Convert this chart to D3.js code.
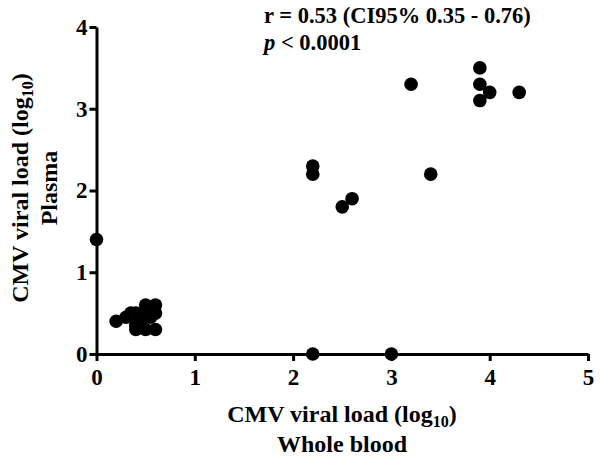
<!DOCTYPE html>
<html>
<head>
<meta charset="utf-8">
<script src="https://cdn.jsdelivr.net/npm/d3@7"></script>
<style>
  body { margin: 0; background: #fff; }
  text { font-family: "Liberation Serif", "Times New Roman", serif; font-weight: bold; }
</style>
</head>
<body>
<svg width="600" height="463"></svg>
<script>
// whole blood (x) vs plasma (y), log10 copies
const wholeBlood = [0, 0.2, 0.3, 0.35, 0.4, 0.4, 0.45, 0.5, 0.5, 0.55, 0.6, 0.6, 0.6, 0.4, 0.5,
                    2.2, 2.2, 2.2, 2.5, 2.6, 3.0, 3.2, 3.4, 3.9, 3.9, 3.9, 4.0, 4.3];
const plasma     = [1.4, 0.4, 0.45, 0.5, 0.5, 0.35, 0.4, 0.6, 0.3, 0.45, 0.6, 0.5, 0.3, 0.3, 0.5,
                    2.3, 2.2, 0, 1.8, 1.9, 0, 3.3, 2.2, 3.5, 3.3, 3.1, 3.2, 3.2];
const xTicks = [0, 1, 2, 3, 4, 5];
const yTicks = [0, 1, 2, 3, 4];

const svg = d3.select("svg");
const x = d3.scaleLinear().domain([0, 5]).range([96.5, 588]);
const y = d3.scaleLinear().domain([0, 4]).range([354, 27]);

const styleAxis = g => {
    g.select(".domain").attr("stroke", "#000").attr("stroke-width", 3);
    g.selectAll(".tick line").attr("stroke", "#000").attr("stroke-width", 3);
    g.selectAll(".tick text").attr("font-size", 23).attr("fill", "#000")
        .attr("font-family", "Liberation Serif").attr("font-weight", "bold");
};

svg.append("g")
    .attr("transform", `translate(0,${y(0)})`)
    .call(d3.axisBottom(x).tickValues(xTicks).tickSize(7).tickSizeOuter(0).tickPadding(8).tickFormat(d3.format("d")))
    .call(styleAxis);

svg.append("g")
    .attr("transform", `translate(${x(0)},0)`)
    .call(d3.axisLeft(y).tickValues(yTicks).tickSize(7).tickSizeOuter(0).tickPadding(2).tickFormat(d3.format("d")))
    .call(styleAxis);

svg.append("g").selectAll("circle")
    .data(d3.range(wholeBlood.length))
    .join("circle")
    .attr("cx", i => x(wholeBlood[i]))
    .attr("cy", i => y(plasma[i]))
    .attr("r", 6.8)
    .attr("fill", "#000");

// annotation
const note = svg.append("g").attr("font-size", 22.5);
note.append("text").attr("x", 264).attr("y", 23).text("r = 0.53 (CI95% 0.35 - 0.76)");
const p = note.append("text").attr("x", 264).attr("y", 50);
p.append("tspan").attr("font-style", "italic").text("p");
p.append("tspan").text(" < 0.0001");

// x title
const xt = svg.append("text").attr("text-anchor", "middle").attr("font-size", 24)
    .attr("x", 342).attr("y", 422);
xt.append("tspan").text("CMV viral load (log");
xt.append("tspan").attr("font-size", 16).attr("dy", 5).text("10");
xt.append("tspan").attr("dy", -5).text(")");
svg.append("text").attr("text-anchor", "middle").attr("font-size", 24)
    .attr("x", 342).attr("y", 452).text("Whole blood");

// y title
const yg = svg.append("g").attr("transform", "translate(28,188) rotate(-90)");
const yt = yg.append("text").attr("text-anchor", "middle").attr("font-size", 24).attr("y", 0);
yt.append("tspan").text("CMV viral load (log");
yt.append("tspan").attr("font-size", 16).attr("dy", 5).text("10");
yt.append("tspan").attr("dy", -5).text(")");
yg.append("text").attr("text-anchor", "middle").attr("font-size", 24).attr("y", 29).text("Plasma");
</script>
</body>
</html>
